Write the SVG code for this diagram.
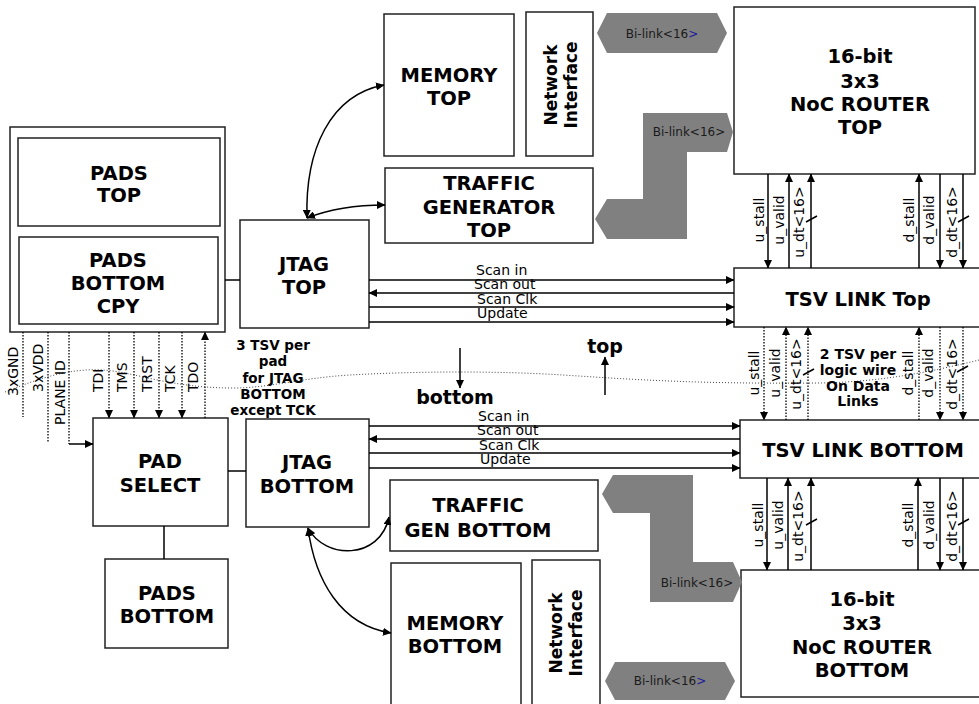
<svg xmlns="http://www.w3.org/2000/svg" width="979" height="704" viewBox="0 0 979 704">
<style>
.box{fill:#fff;stroke:#222;stroke-width:1.5}
.lbl{font-family:"DejaVu Sans",Verdana,sans-serif;font-weight:bold;font-size:19.5px;text-anchor:middle;fill:#000}
.ni{font-family:"DejaVu Sans",Verdana,sans-serif;font-weight:bold;font-size:17px;text-anchor:middle;fill:#000}
.note{font-family:"DejaVu Sans",Verdana,sans-serif;font-weight:bold;font-size:13.5px;text-anchor:middle;fill:#000}
.sig{font-family:"DejaVu Sans",Verdana,sans-serif;font-size:14px;fill:#000}
.sigm{font-family:"DejaVu Sans",Verdana,sans-serif;font-size:14px;fill:#000;text-anchor:middle}
.ln{stroke:#000;stroke-width:1.5;fill:none}
.dot{stroke:#000;stroke-width:1.3;stroke-dasharray:1.5 1.5;fill:none}
.bnd{stroke:#444;stroke-width:1;stroke-dasharray:1 2;fill:none}
.link{fill:#808080}
.lt{font-family:"DejaVu Sans",Verdana,sans-serif;font-size:12px;fill:#1a1a1a;text-anchor:middle}
.bl{fill:#1a1a9a}
</style>
<defs>
<marker id="ah" markerWidth="9" markerHeight="8" refX="8" refY="4" orient="auto-start-reverse" markerUnits="userSpaceOnUse">
<path d="M0,0 L8.5,4 L0,8 z" fill="#000"/>
</marker>
</defs>

<!-- tier boundary -->
<path class="bnd" d="M5,392 C40,378 70,368 103,370 C135,372 170,388 233,388 C270,388 300,378 350,375 C420,371 500,371 563,375 C640,380 700,384 820,383 C880,382 930,372 979,360"/>

<g id="pads-top-group">
<rect class="box" x="10" y="127" width="215" height="205"/>
</g>
<g id="pads-top">
<rect class="box" x="18" y="138" width="202" height="88"/>
<text class="lbl" x="119" y="180">PADS</text>
<text class="lbl" x="119" y="202">TOP</text>
</g>
<g id="pads-bottom-cpy">
<rect class="box" x="19" y="237" width="199" height="87"/>
<text class="lbl" x="118" y="267">PADS</text>
<text class="lbl" x="118" y="290">BOTTOM</text>
<text class="lbl" x="118" y="313">CPY</text>
</g>
<g id="jtag-top">
<rect class="box" x="240" y="220" width="129" height="108"/>
<text class="lbl" x="304" y="271">JTAG</text>
<text class="lbl" x="304" y="294">TOP</text>
</g>
<g id="memory-top">
<rect class="box" x="384" y="14" width="130" height="142"/>
<text class="lbl" x="449" y="82">MEMORY</text>
<text class="lbl" x="449" y="105">TOP</text>
</g>
<g id="ni-top">
<rect class="box" x="526" y="12" width="67" height="144"/>
<text class="ni" transform="translate(557,85) rotate(-90)">Network</text>
<text class="ni" transform="translate(577,85) rotate(-90)">Interface</text>
</g>
<g id="traffic-top">
<rect class="box" x="385" y="168" width="208" height="75"/>
<text class="lbl" x="489" y="190">TRAFFIC</text>
<text class="lbl" x="489" y="214">GENERATOR</text>
<text class="lbl" x="489" y="237">TOP</text>
</g>
<g id="router-top">
<rect class="box" x="734" y="7" width="241" height="167"/>
<text class="lbl" x="860" y="63">16-bit</text>
<text class="lbl" x="860" y="88">3x3</text>
<text class="lbl" x="860" y="111">NoC ROUTER</text>
<text class="lbl" x="860" y="134">TOP</text>
</g>
<g id="tsv-top">
<rect class="box" x="734" y="268" width="250" height="59"/>
<text class="lbl" x="858" y="306">TSV LINK Top</text>
</g>
<g id="pad-select">
<rect class="box" x="93" y="418" width="135" height="108"/>
<text class="lbl" x="160" y="468">PAD</text>
<text class="lbl" x="160" y="492">SELECT</text>
</g>
<g id="jtag-bottom">
<rect class="box" x="246" y="419" width="123" height="108"/>
<text class="lbl" x="307" y="469">JTAG</text>
<text class="lbl" x="307" y="493">BOTTOM</text>
</g>
<g id="pads-bottom">
<rect class="box" x="105" y="559" width="123" height="89"/>
<text class="lbl" x="167" y="600">PADS</text>
<text class="lbl" x="167" y="623">BOTTOM</text>
</g>
<g id="traffic-bottom">
<rect class="box" x="390" y="480" width="208" height="71"/>
<text class="lbl" x="478" y="512">TRAFFIC</text>
<text class="lbl" x="478" y="537">GEN BOTTOM</text>
</g>
<g id="memory-bottom">
<rect class="box" x="391" y="563" width="130" height="145"/>
<text class="lbl" x="455" y="630">MEMORY</text>
<text class="lbl" x="455" y="653">BOTTOM</text>
</g>
<g id="ni-bottom">
<rect class="box" x="532" y="560" width="68" height="148"/>
<text class="ni" transform="translate(562,633) rotate(-90)">Network</text>
<text class="ni" transform="translate(582,633) rotate(-90)">Interface</text>
</g>
<g id="tsv-bottom">
<rect class="box" x="740" y="420" width="244" height="58"/>
<text class="lbl" x="863" y="457">TSV LINK BOTTOM</text>
</g>
<g id="router-bottom">
<rect class="box" x="741" y="570" width="243" height="127"/>
<text class="lbl" x="862" y="606">16-bit</text>
<text class="lbl" x="862" y="630">3x3</text>
<text class="lbl" x="862" y="654">NoC ROUTER</text>
<text class="lbl" x="862" y="677">BOTTOM</text>
</g>

<g id="bilinks">
<polygon class="link" points="597,33 607,13 717,13 727,33 717,53 607,53"/>
<text class="lt" x="662" y="38">Bi-link&lt;16<tspan class="bl">&gt;</tspan></text>
<polygon class="link" points="643,113 727,113 733,132 727,152 687,152 687,239 607,239 595,219 607,199 643,199"/>
<text class="lt" x="689" y="136">Bi-link&lt;16&gt;</text>
<polygon class="link" points="613,475 693,475 693,562 733,562 742,582 733,602 650,602 650,513 613,513 602,494"/>
<text class="lt" x="697" y="587">Bi-link&lt;16&gt;</text>
<polygon class="link" points="605,681 615,662 725,662 735,681 725,700 615,700"/>
<text class="lt" x="670" y="685">Bi-link&lt;16<tspan class="bl">&gt;</tspan></text>
</g>

<g id="connectors">
<!-- plain links -->
<line class="ln" x1="225" y1="280" x2="240" y2="280"/>
<line class="ln" x1="228" y1="471" x2="246" y2="471"/>
<line class="ln" x1="164" y1="526" x2="164" y2="559"/>
<!-- JTAG top scan lines -->
<line class="ln" x1="369" y1="280" x2="734" y2="280" marker-end="url(#ah)"/>
<line class="ln" x1="734" y1="293" x2="369" y2="293" marker-end="url(#ah)"/>
<line class="ln" x1="369" y1="307" x2="734" y2="307" marker-end="url(#ah)"/>
<line class="ln" x1="369" y1="322" x2="734" y2="322" marker-end="url(#ah)"/>
<!-- JTAG bottom scan lines -->
<line class="ln" x1="369" y1="426" x2="740" y2="426" marker-end="url(#ah)"/>
<line class="ln" x1="740" y1="439" x2="369" y2="439" marker-end="url(#ah)"/>
<line class="ln" x1="369" y1="453" x2="740" y2="453" marker-end="url(#ah)"/>
<line class="ln" x1="369" y1="468" x2="740" y2="468" marker-end="url(#ah)"/>
<!-- curved links -->
<path class="ln" d="M307,218 C305,150 330,95 384,85" marker-start="url(#ah)" marker-end="url(#ah)"/>
<path class="ln" d="M307,218 C330,209 355,205 385,205" marker-start="url(#ah)" marker-end="url(#ah)"/>
<path class="ln" d="M308,528 C325,560 380,560 389,517" marker-start="url(#ah)" marker-end="url(#ah)"/>
<path class="ln" d="M308,528 C315,580 340,625 391,633" marker-start="url(#ah)" marker-end="url(#ah)"/>
<!-- router top <-> tsv top -->
<line class="ln" x1="768" y1="174" x2="768" y2="268" marker-end="url(#ah)"/>
<line class="ln" x1="789" y1="268" x2="789" y2="174" marker-end="url(#ah)"/>
<line class="ln" x1="811" y1="268" x2="811" y2="174" marker-end="url(#ah)"/>
<line class="ln" x1="919" y1="268" x2="919" y2="174" marker-end="url(#ah)"/>
<line class="ln" x1="940" y1="174" x2="940" y2="268" marker-end="url(#ah)"/>
<line class="ln" x1="963" y1="174" x2="963" y2="268" marker-end="url(#ah)"/>
<line class="ln" x1="806" y1="222" x2="817" y2="216"/>
<line class="ln" x1="958" y1="222" x2="969" y2="216"/>
<!-- tsv top <-> tsv bottom (dotted) -->
<line class="dot" x1="764" y1="327" x2="764" y2="420" marker-end="url(#ah)"/>
<line class="dot" x1="786" y1="420" x2="786" y2="327" marker-end="url(#ah)"/>
<line class="dot" x1="808" y1="420" x2="808" y2="327" marker-end="url(#ah)"/>
<line class="dot" x1="919" y1="420" x2="919" y2="327" marker-end="url(#ah)"/>
<line class="dot" x1="940" y1="327" x2="940" y2="420" marker-end="url(#ah)"/>
<line class="dot" x1="963" y1="327" x2="963" y2="420" marker-end="url(#ah)"/>
<line class="ln" x1="803" y1="375" x2="814" y2="369"/>
<line class="ln" x1="957" y1="372" x2="968" y2="366"/>
<!-- tsv bottom <-> router bottom -->
<line class="ln" x1="767" y1="478" x2="767" y2="570" marker-end="url(#ah)"/>
<line class="ln" x1="788" y1="570" x2="788" y2="478" marker-end="url(#ah)"/>
<line class="ln" x1="811" y1="570" x2="811" y2="478" marker-end="url(#ah)"/>
<line class="ln" x1="918" y1="570" x2="918" y2="478" marker-end="url(#ah)"/>
<line class="ln" x1="940" y1="478" x2="940" y2="570" marker-end="url(#ah)"/>
<line class="ln" x1="963" y1="478" x2="963" y2="570" marker-end="url(#ah)"/>
<line class="ln" x1="806" y1="525" x2="817" y2="519"/>
<line class="ln" x1="958" y1="525" x2="969" y2="519"/>
<!-- pad pins -->
<line class="dot" x1="23" y1="332" x2="23" y2="417"/>
<line class="dot" x1="48" y1="332" x2="48" y2="443"/>
<polyline class="dot" points="69,332 69,444"/>
<line class="ln" x1="69" y1="444" x2="93" y2="444" marker-end="url(#ah)"/>
<line class="dot" x1="109" y1="332" x2="109" y2="418" marker-end="url(#ah)"/>
<line class="dot" x1="134" y1="332" x2="134" y2="418" marker-end="url(#ah)"/>
<line class="dot" x1="159" y1="332" x2="159" y2="418" marker-end="url(#ah)"/>
<line class="dot" x1="182" y1="332" x2="182" y2="418" marker-end="url(#ah)"/>
<line class="dot" x1="205" y1="418" x2="205" y2="332" marker-end="url(#ah)"/>
<!-- top / bottom direction arrows -->
<line class="ln" x1="460" y1="348" x2="460" y2="388" marker-end="url(#ah)"/>
<line class="ln" x1="605" y1="395" x2="605" y2="357" marker-end="url(#ah)"/>
</g>

<g id="labels">
<text class="sig" x="476" y="275">Scan in</text>
<text class="sig" x="474" y="289">Scan out</text>
<text class="sig" x="477" y="304">Scan Clk</text>
<text class="sig" x="477" y="318">Update</text>
<text class="sig" x="478" y="421">Scan in</text>
<text class="sig" x="477" y="435">Scan out</text>
<text class="sig" x="479" y="450">Scan Clk</text>
<text class="sig" x="480" y="464">Update</text>

<text class="sig" transform="translate(18,396) rotate(-90)">3xGND</text>
<text class="sig" transform="translate(43,392) rotate(-90)">3xVDD</text>
<text class="sig" transform="translate(65,425) rotate(-90)">PLANE ID</text>
<text class="sig" transform="translate(103,392) rotate(-90)">TDI</text>
<text class="sig" transform="translate(127,392) rotate(-90)">TMS</text>
<text class="sig" transform="translate(152,392) rotate(-90)">TRST</text>
<text class="sig" transform="translate(175,392) rotate(-90)">TCK</text>
<text class="sig" transform="translate(198,392) rotate(-90)">TDO</text>

<text class="sigm" transform="translate(764,220) rotate(-90)">u_stall</text>
<text class="sigm" transform="translate(784,220) rotate(-90)">u_valid</text>
<text class="sigm" transform="translate(804,222) rotate(-90)">u_dt&lt;16&gt;</text>
<text class="sigm" transform="translate(914,220) rotate(-90)">d_stall</text>
<text class="sigm" transform="translate(934,220) rotate(-90)">d_valid</text>
<text class="sigm" transform="translate(957,222) rotate(-90)">d_dt&lt;16&gt;</text>

<text class="sigm" transform="translate(759,373) rotate(-90)">u_stall</text>
<text class="sigm" transform="translate(780,373) rotate(-90)">u_valid</text>
<text class="sigm" transform="translate(801,374) rotate(-90)">u_dt&lt;16&gt;</text>
<text class="sigm" transform="translate(913,373) rotate(-90)">d_stall</text>
<text class="sigm" transform="translate(933,373) rotate(-90)">d_valid</text>
<text class="sigm" transform="translate(957,374) rotate(-90)">d_dt&lt;16&gt;</text>

<text class="sigm" transform="translate(763,525) rotate(-90)">u_stall</text>
<text class="sigm" transform="translate(783,525) rotate(-90)">u_valid</text>
<text class="sigm" transform="translate(803,526) rotate(-90)">u_dt&lt;16&gt;</text>
<text class="sigm" transform="translate(913,525) rotate(-90)">d_stall</text>
<text class="sigm" transform="translate(934,525) rotate(-90)">d_valid</text>
<text class="sigm" transform="translate(957,526) rotate(-90)">d_dt&lt;16&gt;</text>

<text class="note" x="273" y="350">3 TSV per</text>
<text class="note" x="273" y="366">pad</text>
<text class="note" x="273" y="383">for JTAG</text>
<text class="note" x="273" y="399">BOTTOM</text>
<text class="note" x="273" y="415">except TCK</text>

<text class="note" style="font-size:14px" x="858" y="359">2 TSV per</text>
<text class="note" style="font-size:14px" x="858" y="375">logic wire</text>
<text class="note" style="font-size:14px" x="858" y="391">On Data</text>
<text class="note" style="font-size:14px" x="858" y="406">Links</text>

<text class="lbl" style="font-size:19px" x="455" y="404">bottom</text>
<text class="lbl" style="font-size:19px" x="605" y="353">top</text>
</g>
</svg>
